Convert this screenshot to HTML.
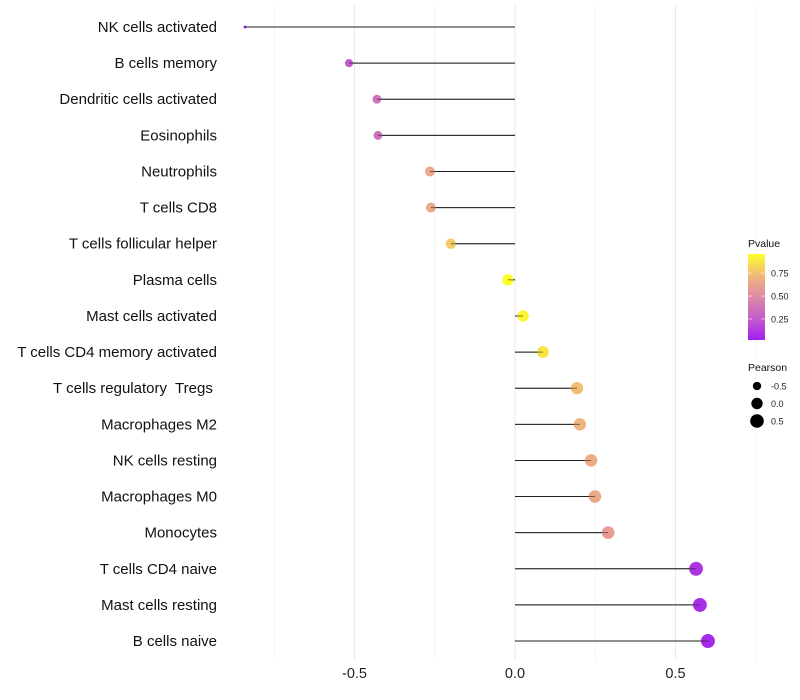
<!DOCTYPE html>
<html><head><meta charset="utf-8"><style>
body{margin:0;background:#fff;}
svg{display:block;font-family:"Liberation Sans",Arial,sans-serif;}
</style></head><body>
<svg id="chart" width="800" height="700"></svg>
<script>
const categories=["NK cells activated","B cells memory","Dendritic cells activated","Eosinophils","Neutrophils","T cells CD8","T cells follicular helper","Plasma cells","Mast cells activated","T cells CD4 memory activated","T cells regulatory  Tregs ","Macrophages M2","NK cells resting","Macrophages M0","Monocytes","T cells CD4 naive","Mast cells resting","B cells naive"];
const pearson=[-0.841,-0.517,-0.43,-0.427,-0.265,-0.262,-0.2,-0.022,0.025,0.087,0.193,0.202,0.237,0.249,0.29,0.564,0.576,0.601];
const pvalues=[0.02,0.25,0.36,0.36,0.65,0.65,0.78,0.96,0.93,0.87,0.74,0.7,0.67,0.65,0.58,0.1,0.08,0.06];
const xTicks=[-0.5,0,0.5];
const xTickLabels=["-0.5","0.0","0.5"];
const colorTicks=[0.25,0.5,0.75];
const sizeTicks=[-0.5,0,0.5];

const NS="http://www.w3.org/2000/svg";
const svg=document.getElementById("chart");
function el(t,a,p){const e=document.createElementNS(NS,t);for(const k in a)e.setAttribute(k,a[k]);(p||svg).appendChild(e);return e;}
const x=v=>515+v*321;
const y=i=>27+i*36.12;
const pmin=Math.min(...pearson),pmax=Math.max(...pearson);
const rad=v=>1.5+5.5*Math.sqrt((v-pmin)/(pmax-pmin));
const stops=[[0,[160,32,240]],[0.25,[196,92,204]],[0.5,[221,138,165]],[0.75,[240,184,122]],[1,[255,255,40]]];
function col(p){p=(p-0.02)/0.94;p=Math.max(0,Math.min(1,p));for(let i=1;i<stops.length;i++){if(p<=stops[i][0]){const a=stops[i-1],b=stops[i],t=(p-a[0])/(b[0]-a[0]);const c=a[1].map((v,k)=>Math.round(v+(b[1][k]-v)*t));return`rgb(${c.join(",")})`;}}return"rgb(255,255,40)";}

[-0.75,-0.25,0.25,0.75].forEach(v=>{const g=el("line",{x1:x(v),x2:x(v),y1:5,y2:660,stroke:"#f2f2f2","stroke-width":0.8});

});
xTicks.forEach((v,i)=>{const g=el("line",{x1:x(v),x2:x(v),y1:5,y2:660,stroke:"#ebebeb","stroke-width":1.1});


const t=el("text",{x:x(v),y:678,"text-anchor":"middle","font-size":14.5,fill:"#222"});t.textContent=xTickLabels[i];

});

categories.forEach((c,i)=>{
const t=el("text",{x:217,y:y(i)+5,"text-anchor":"end","font-size":15,fill:"#111"});t.textContent=c;
t.style.whiteSpace="pre";


const l=el("line",{x1:x(0),x2:x(pearson[i]),y1:y(i),y2:y(i),stroke:"#222","stroke-width":1});


const d=el("circle",{cx:x(pearson[i]),cy:y(i),r:rad(pearson[i]),fill:col(pvalues[i])});


el("line",{x1:x(0),x2:x(pearson[i]),y1:y(i),y2:y(i),stroke:"#222","stroke-width":1,"stroke-opacity":0.6});
});

const lt=el("text",{x:748,y:247,"font-size":10.5,fill:"#111"});lt.textContent="Pvalue";


const defs=el("defs",{});const lg=el("linearGradient",{id:"g",x1:0,y1:1,x2:0,y2:0},defs);
stops.forEach(s=>el("stop",{offset:s[0],"stop-color":`rgb(${s[1].join(",")})`},lg));
const bar=el("rect",{x:748,y:254,width:17,height:86,fill:"url(#g)"});


colorTicks.forEach(v=>{const yy=340-(v-0.02)/0.94*86;
el("line",{x1:748,x2:752,y1:yy,y2:yy,stroke:"#fff","stroke-opacity":0.6});el("line",{x1:761,x2:765,y1:yy,y2:yy,stroke:"#fff","stroke-opacity":0.6});
const t=el("text",{x:771,y:yy+3.5,"font-size":9,fill:"#222"});t.textContent=v.toFixed(2);

});
const st=el("text",{x:748,y:371,"font-size":10.5,fill:"#111"});st.textContent="Pearson";


sizeTicks.forEach((v,i)=>{const yy=386+i*17.5;
const c=el("circle",{cx:757,cy:yy,r:rad(v),fill:"#000"});


const t=el("text",{x:771,y:yy+3.5,"font-size":9,fill:"#222"});t.textContent=v===0?"0.0":v.toFixed(1);

});
</script>
</body></html>
